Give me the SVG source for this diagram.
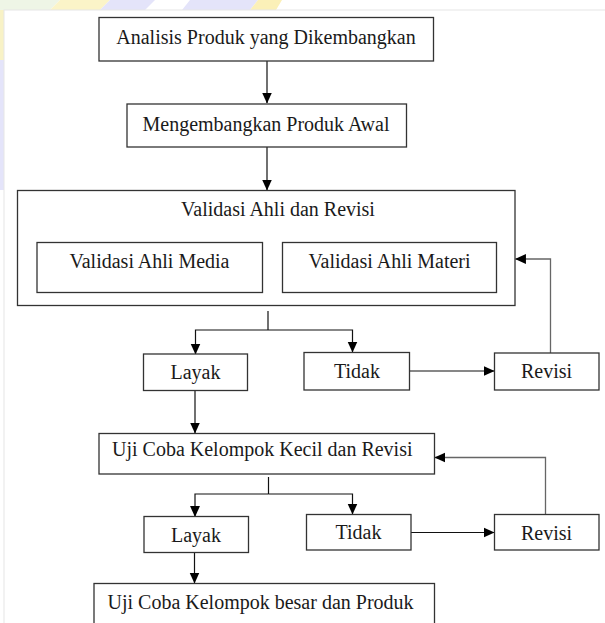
<svg xmlns="http://www.w3.org/2000/svg" width="605" height="623" viewBox="0 0 605 623">
  <style>
    .box { fill: #ffffff; stroke: #333333; stroke-width: 1.3; }
    text { font-family: 'Liberation Serif', 'Times New Roman', 'DejaVu Serif', serif; font-size: 20px; fill: #1a1a1a; }
    .lbl { text-anchor: middle; }
    .lbl-start { text-anchor: start; }
    .conn { fill: none; stroke: #111111; stroke-width: 1.2; }
    .back { fill: none; stroke: #666666; stroke-width: 1.3; }
  </style>
  <defs>
    <marker id="arr" markerUnits="userSpaceOnUse" markerWidth="11" markerHeight="11" viewBox="0 0 10 10" refX="9.5" refY="5" orient="auto">
      <path d="M0,0.5 L10,5 L0,9.5 Z" fill="#000000"/>
    </marker>
  </defs>

  <!-- background watermark fragments -->
  <g id="watermark">
    <rect x="0" y="0" width="605" height="623" fill="#ffffff"/>
    <polygon points="0,0 60,0 50,10 0,10" fill="#eef5e6"/>
    <polygon points="60,0 110,0 100,10 50,10" fill="#fbf4c8"/>
    <polygon points="110,0 155,0 145,10 100,10" fill="#e4e4fa"/>
    <polygon points="190,0 258,0 250,10 182,10" fill="#e4e4fa"/>
    <polygon points="258,0 282,0 276,10 250,10" fill="#fbf0b8"/>
    <rect x="0" y="10" width="4" height="50" fill="#f8f2c6"/>
    <rect x="0" y="60" width="4" height="130" fill="#e4e4fa"/>
  </g>
  <rect id="page" x="4" y="10" width="610" height="620" fill="#ffffff" stroke="#e6e6e6" stroke-width="1"/>

  <g id="connectors">
    <line class="conn" x1="267" y1="61" x2="267" y2="103" marker-end="url(#arr)"/>
    <line class="conn" x1="267" y1="147" x2="267" y2="190" marker-end="url(#arr)"/>
    <polyline class="conn" points="268,311 268,330"/>
    <polyline class="conn" points="268,330 195.5,330 195.5,354" marker-end="url(#arr)"/>
    <polyline class="conn" points="268,330 352.5,330 352.5,352" marker-end="url(#arr)"/>
    <line class="conn" x1="409.5" y1="371" x2="494" y2="371" marker-end="url(#arr)"/>
    <polyline class="back" points="550.5,353 550.5,259 515.5,259" marker-end="url(#arr)"/>
    <line class="conn" x1="195" y1="391" x2="195" y2="433" marker-end="url(#arr)"/>
    <polyline class="conn" points="268.5,477 268.5,494"/>
    <polyline class="conn" points="268.5,494 195,494 195,516.5" marker-end="url(#arr)"/>
    <polyline class="conn" points="268.5,494 352.5,494 352.5,514" marker-end="url(#arr)"/>
    <line class="conn" x1="411" y1="532.5" x2="494" y2="532.5" marker-end="url(#arr)"/>
    <polyline class="back" points="545.5,514 545.5,457.5 435,457.5" marker-end="url(#arr)"/>
    <line class="conn" x1="194.5" y1="552.5" x2="194.5" y2="583" marker-end="url(#arr)"/>
  </g>

  <g id="n-analisis">
    <rect class="box" x="99" y="17.5" width="334.5" height="43.5"/>
    <text class="lbl" x="266" y="44">Analisis Produk yang Dikembangkan</text>
  </g>
  <g id="n-mengembangkan">
    <rect class="box" x="127" y="104" width="279.5" height="43"/>
    <text class="lbl" x="266" y="130.5">Mengembangkan Produk Awal</text>
  </g>
  <g id="n-validasi">
    <rect class="box" x="17.5" y="190.5" width="497.5" height="115"/>
    <text class="lbl" x="278" y="216">Validasi Ahli dan Revisi</text>
  </g>
  <g id="n-media">
    <rect class="box" x="37" y="242.5" width="225.5" height="50"/>
    <text class="lbl" x="149.5" y="268">Validasi Ahli Media</text>
  </g>
  <g id="n-materi">
    <rect class="box" x="282.5" y="242.5" width="214" height="50"/>
    <text class="lbl" x="389.5" y="268">Validasi Ahli Materi</text>
  </g>
  <g id="n-layak1">
    <rect class="box" x="143.5" y="354" width="104" height="36.5"/>
    <text class="lbl" x="195.5" y="379">Layak</text>
  </g>
  <g id="n-tidak1">
    <rect class="box" x="304" y="352.5" width="105.5" height="37.5"/>
    <text class="lbl" x="357" y="377.5">Tidak</text>
  </g>
  <g id="n-revisi1">
    <rect class="box" x="494.5" y="353" width="104.5" height="37"/>
    <text class="lbl" x="546.5" y="377.5">Revisi</text>
  </g>
  <g id="n-ujikecil">
    <rect class="box" x="99" y="433.5" width="335.5" height="40.5"/>
    <text class="lbl lbl-start" x="112" y="455.5">Uji Coba Kelompok Kecil dan Revisi</text>
  </g>
  <g id="n-layak2">
    <rect class="box" x="144" y="516.5" width="104.5" height="36"/>
    <text class="lbl" x="196" y="542">Layak</text>
  </g>
  <g id="n-tidak2">
    <rect class="box" x="306.5" y="514.5" width="104.5" height="35.5"/>
    <text class="lbl" x="358.5" y="538.5">Tidak</text>
  </g>
  <g id="n-revisi2">
    <rect class="box" x="494.5" y="514.5" width="104.5" height="35.5"/>
    <text class="lbl" x="546.5" y="540">Revisi</text>
  </g>
  <g id="n-ujibesar">
    <rect class="box" x="94" y="583.5" width="340.5" height="50"/>
    <text class="lbl lbl-start" x="107.5" y="608.5">Uji Coba Kelompok besar dan Produk</text>
  </g>
</svg>
